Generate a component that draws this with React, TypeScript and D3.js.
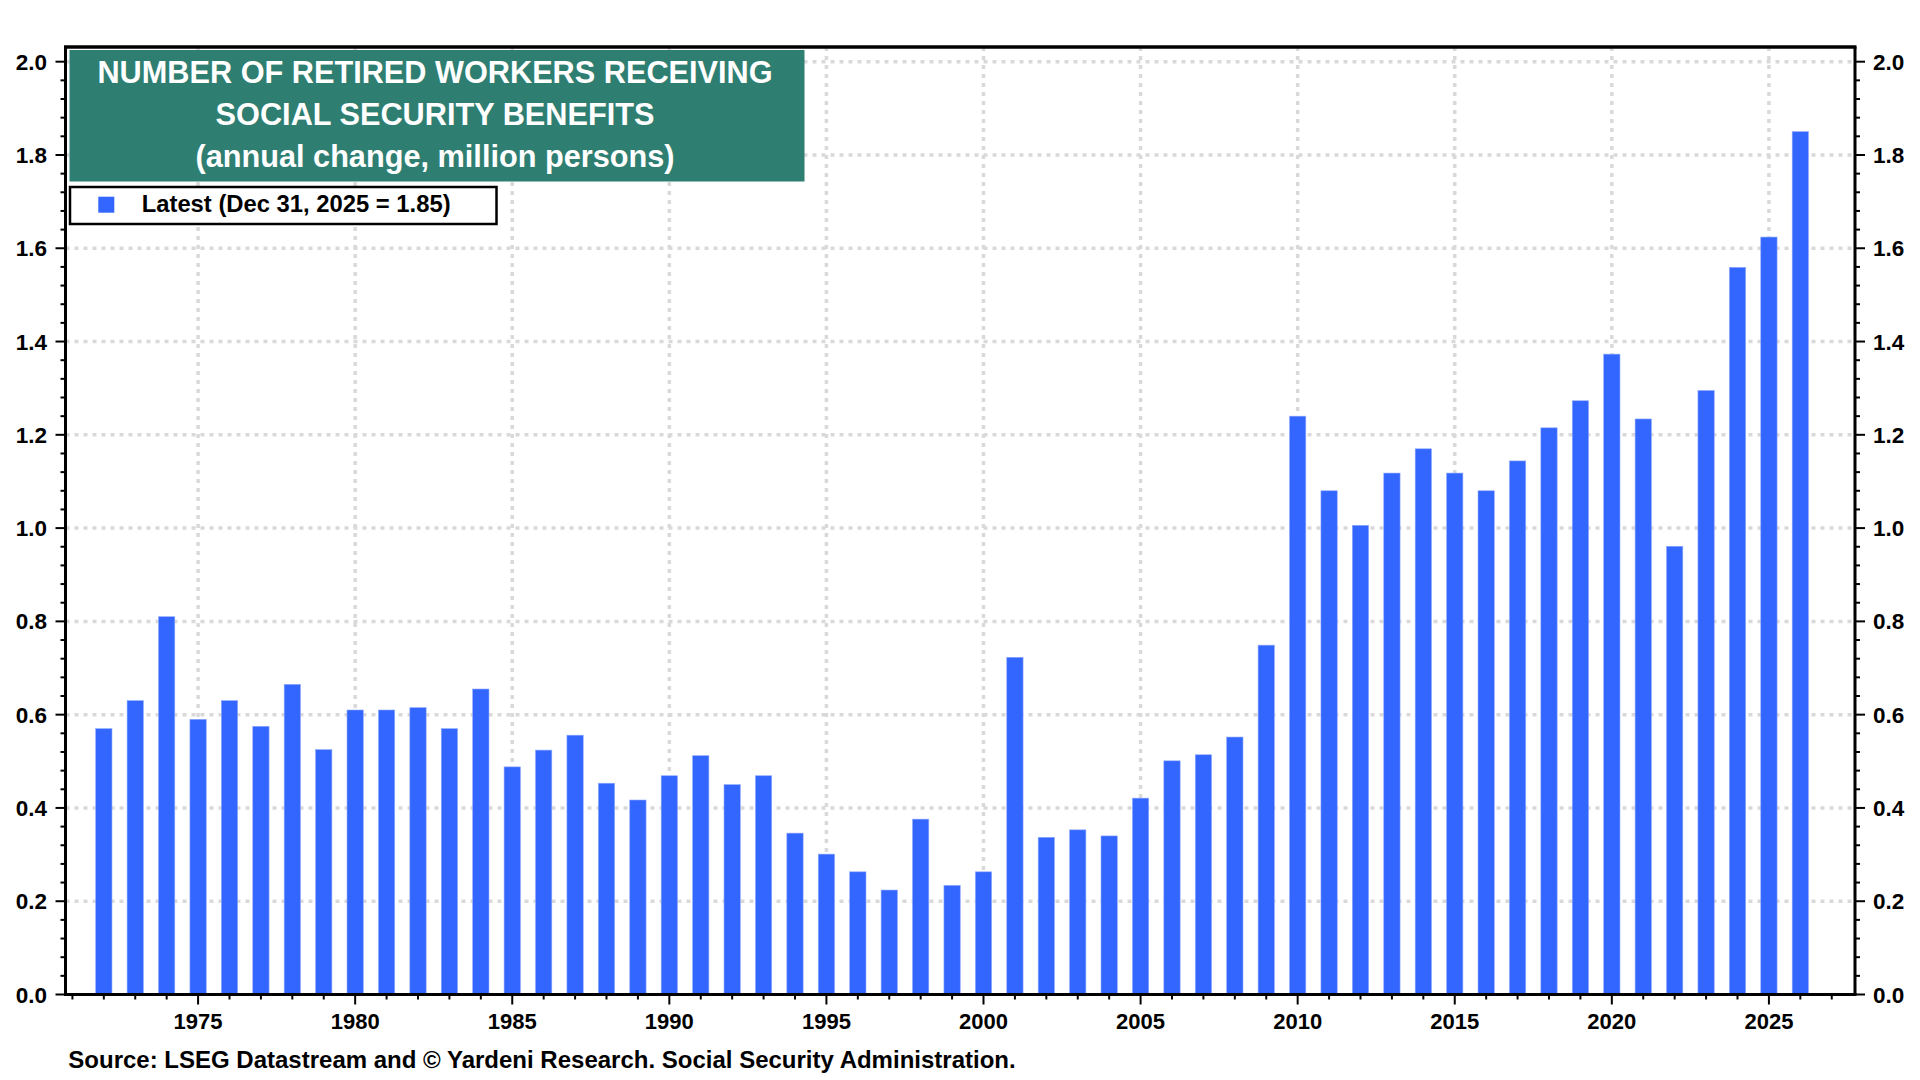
import { useMemo } from "react";
import * as d3 from "d3";

// annual change in retired workers receiving benefits, million persons (year-end)
const startYear = 1971;
const changes = [
    0.57, 0.63, 0.81, 0.59, 0.63, 0.575, 0.665, 0.525, 0.61, 0.61,
    0.615, 0.57, 0.655, 0.488, 0.524, 0.556, 0.453, 0.417, 0.469, 0.512,
    0.45, 0.469, 0.346, 0.301, 0.263, 0.224, 0.376, 0.234, 0.263, 0.723,
    0.337, 0.353, 0.34, 0.421, 0.501, 0.514, 0.552, 0.749, 1.24, 1.08,
    1.006, 1.118, 1.17, 1.118, 1.08, 1.144, 1.215, 1.273, 1.373, 1.234,
    0.961, 1.295, 1.559, 1.624, 1.85,
];
const years = changes.map((_, i) => startYear + i);

const yMajorTicks = [0, 0.2, 0.4, 0.6, 0.8, 1.0, 1.2, 1.4, 1.6, 1.8, 2.0];
const xLabelYears = [1975, 1980, 1985, 1990, 1995, 2000, 2005, 2010, 2015, 2020, 2025];

const titleLines = [
    "NUMBER OF RETIRED WORKERS RECEIVING",
    "SOCIAL SECURITY BENEFITS",
    "(annual change, million persons)",
];
const legendLabel = "Latest (Dec 31, 2025 = 1.85)";
const sourceText = "Source: LSEG Datastream and \u00A9 Yardeni Research. Social Security Administration.";

const WIDTH = 1920;
const HEIGHT = 1080;
const LEFT = 65.5;
const RIGHT = 1855;
const TOP = 47;
const BOTTOM = 994.5;

const BAR_COLOR = "#3366ff";
const GRID_COLOR = "#d9d9d9";
const FONT = "'Liberation Sans', Arial, Helvetica, sans-serif";

const App = () => {
    const x = useMemo(
        () => d3.scaleLinear().domain([1970.78, 2027.74]).range([LEFT, RIGHT]),
        []
    );
    const y = useMemo(
        () => d3.scaleLinear().domain([0, 2.0315]).range([BOTTOM, TOP]),
        []
    );

    const minorY = d3.range(0, 2.0001, 0.04);
    const minorX = d3.range(1971, 2028);
    const barWidth = 16.3;

    return (
        <svg
            width={WIDTH}
            height={HEIGHT}
            style={{ position: "absolute", left: 0, top: 0, background: "#fff" }}
            fontFamily={FONT}
            fontWeight="bold"
        >
            <rect width={WIDTH} height={HEIGHT} fill="#fff" />

            {/* grid */}
            <g stroke={GRID_COLOR} strokeWidth={3.5} strokeDasharray="4,5">
                {yMajorTicks.filter((t) => t > 0).map((t) => (
                    <line key={"gy" + t} x1={LEFT} x2={RIGHT} y1={y(t)} y2={y(t)} />
                ))}
                {xLabelYears.map((yr) => (
                    <line key={"gx" + yr} x1={x(yr)} x2={x(yr)} y1={TOP} y2={BOTTOM} />
                ))}
            </g>

            {/* bars: each year-end value sits at the start of the next year */}
            <g fill={BAR_COLOR} stroke="#8fa8ff" strokeWidth={0.6}>
                {changes.map((v, i) => {
                    const cx = x(years[i] + 1);
                    return (
                        <rect
                            key={years[i]}
                            x={cx - barWidth / 2}
                            y={y(v)}
                            width={barWidth}
                            height={BOTTOM - y(v)}
                        />
                    );
                })}
            </g>

            {/* title box */}
            <rect x={69.5} y={50} width={735} height={131.5} fill="#2e7e72" />
            <g fill="#fff" fontSize={30.7} textAnchor="middle">
                {titleLines.map((line, i) => (
                    <text key={i} x={435} y={83.3 + i * 41.7}>
                        {line}
                    </text>
                ))}
            </g>

            {/* legend */}
            <rect x={70} y={187} width={426.5} height={37} fill="#fff" stroke="#000" strokeWidth={2.5} />
            <rect x={98.3} y={196.7} width={16} height={16} fill={BAR_COLOR} />
            <text x={141.7} y={212} fontSize={23.8} fill="#000">
                {legendLabel}
            </text>

            {/* frame */}
            <g stroke="#000" fill="none">
                <line x1={LEFT - 1.5} x2={RIGHT + 1.5} y1={TOP} y2={TOP} strokeWidth={3.5} />
                <line x1={LEFT - 1.5} x2={RIGHT + 1.5} y1={BOTTOM} y2={BOTTOM} strokeWidth={3} />
                <line x1={LEFT} x2={LEFT} y1={TOP} y2={BOTTOM} strokeWidth={3} />
                <line x1={RIGHT} x2={RIGHT} y1={TOP} y2={BOTTOM} strokeWidth={3} />
            </g>

            {/* y ticks */}
            <g stroke="#000" strokeWidth={2}>
                {minorY.map((t) => {
                    const major = Math.abs(Math.round(t / 0.2) * 0.2 - t) < 1e-6;
                    const len = major ? 10 : 5;
                    return (
                        <g key={"ty" + t.toFixed(2)}>
                            <line x1={LEFT - len} x2={LEFT} y1={y(t)} y2={y(t)} />
                            <line x1={RIGHT} x2={RIGHT + len} y1={y(t)} y2={y(t)} />
                        </g>
                    );
                })}
            </g>
            <g fontSize={22.5} fill="#000">
                {yMajorTicks.map((t) => (
                    <g key={"ly" + t}>
                        <text x={47} y={y(t)} dy="0.36em" textAnchor="end">
                            {d3.format(".1f")(t)}
                        </text>
                        <text x={1873} y={y(t)} dy="0.36em" textAnchor="start">
                            {d3.format(".1f")(t)}
                        </text>
                    </g>
                ))}
            </g>

            {/* x ticks */}
            <g stroke="#000" strokeWidth={2}>
                {minorX.map((yr) => {
                    const len = yr % 5 === 0 ? 10 : 5;
                    return <line key={"tx" + yr} x1={x(yr)} x2={x(yr)} y1={BOTTOM} y2={BOTTOM + len} />;
                })}
            </g>
            <g fontSize={22} fill="#000" textAnchor="middle">
                {xLabelYears.map((yr) => (
                    <text key={"lx" + yr} x={x(yr)} y={1029}>
                        {yr}
                    </text>
                ))}
            </g>

            <text x={68.3} y={1068.3} fontSize={24} fill="#000">
                {sourceText}
            </text>
        </svg>
    );
};

export default App;
